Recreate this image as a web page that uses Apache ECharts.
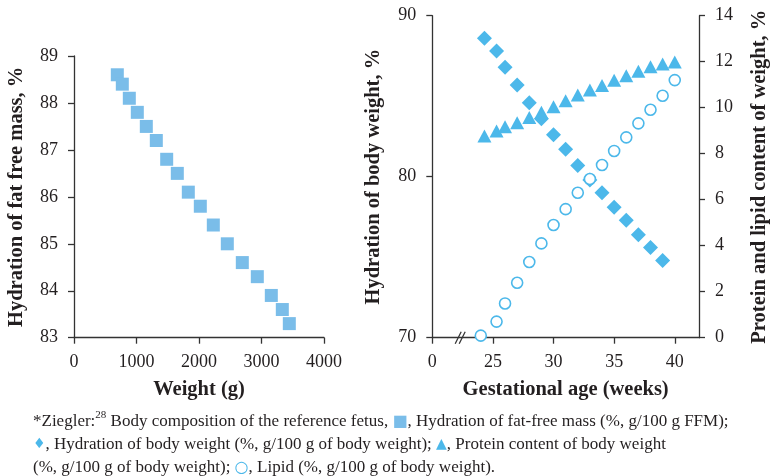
<!DOCTYPE html>
<html>
<head>
<meta charset="utf-8">
<script src="https://cdn.jsdelivr.net/npm/echarts@6/dist/echarts.min.js"></script>
<style>
  html, body { margin: 0; padding: 0; background: #fff; }
  #chart { width: 771px; height: 476px; }
</style>
</head>
<body>
<div id="chart"></div>
<script>
// left panel: hydration of fat free mass vs weight
const weightG = [693, 773, 885, 1013, 1157, 1317, 1483, 1653, 1829, 2021, 2229, 2453, 2693, 2933, 3157, 3333, 3445]
const hydrationFFM = [88.6, 88.4, 88.1, 87.8, 87.5, 87.2, 86.8, 86.5, 86.1, 85.8, 85.4, 85.0, 84.6, 84.3, 83.9, 83.6, 83.3]

// right panel: gestational age (weeks)
const bodyWeeks = [24.3, 25.3, 26, 27, 28, 29, 30, 31, 32, 33, 34, 35, 36, 37, 38, 39]
const hydrationBody = [88.6, 87.8, 86.8, 85.7, 84.6, 83.6, 82.6, 81.7, 80.7, 79.8, 79.0, 78.1, 77.3, 76.4, 75.6, 74.8]

const proteinWeeks = [24.3, 25.3, 26, 27, 28, 29, 30, 31, 32, 33, 34, 35, 36, 37, 38, 39, 40]
const protein = [8.77, 8.99, 9.17, 9.35, 9.57, 9.8, 10.04, 10.3, 10.55, 10.77, 10.97, 11.19, 11.39, 11.58, 11.78, 11.9, 11.99]

const lipidWeeks = [24, 25.3, 26, 27, 28, 29, 30, 31, 32, 33, 34, 35, 36, 37, 38, 39, 40]
const lipid = [0.09, 0.7, 1.49, 2.39, 3.29, 4.1, 4.9, 5.59, 6.3, 6.9, 7.51, 8.12, 8.71, 9.32, 9.91, 10.52, 11.2]

const leftTicksX = [0, 1000, 2000, 3000, 4000]
const rightTicksX = [20, 25, 30, 35, 40]   // 20 is drawn as "0" (broken axis)
const axisBreakAt = 22.3

const sqColor = '#7abde9'
const blue = '#4cb8ea'
const ink = '#231f20'
const axisColor = '#333'

const serif = 'Liberation Serif'

const pair = (xs, ys) => xs.map((x, i) => [x, ys[i]])

const chart = echarts.init(document.getElementById('chart'), null, { renderer: 'canvas' })

const axisBase = {
  axisLine: { show: true, lineStyle: { color: axisColor, width: 1.3 } },
  axisTick: { show: true, length: 6, lineStyle: { color: axisColor, width: 1.3 } },
  axisLabel: { color: ink, fontFamily: serif, fontSize: 18, margin: 16, formatter: v => String(v) },
  splitLine: { show: false },
  nameLocation: 'middle',
  nameTextStyle: { color: ink, fontFamily: serif, fontSize: 20.5, fontWeight: 'bold' }
}

const option = {
  animation: false,
  backgroundColor: '#fff',
  title: {
    left: 28,
    top: 405,
    text: '*Ziegler:{sup|28} Body composition of the reference fetus, {sq|■}, Hydration of fat-free mass (%, g/100 g FFM);\n' +
      '{di|♦}, Hydration of body weight (%, g/100 g of body weight); {tri|▲}, Protein content of body weight\n' +
      '(%, g/100 g of body weight); {ci|○}, Lipid (%, g/100 g of body weight).',
    textStyle: {
      color: ink,
      fontFamily: serif,
      fontSize: 17,
      fontWeight: 'normal',
      lineHeight: 23,
      rich: {
        sup: { fontSize: 11, fontFamily: serif, color: ink, verticalAlign: 'top', lineHeight: 14 },
        sq: { color: sqColor, fontSize: 16, fontFamily: 'DejaVu Sans', lineHeight: 23 },
        di: { color: blue, fontSize: 14, fontFamily: 'DejaVu Sans', lineHeight: 23 },
        tri: { color: blue, fontSize: 14, fontFamily: 'DejaVu Sans', lineHeight: 23 },
        ci: { color: blue, fontSize: 16, fontFamily: 'DejaVu Sans', lineHeight: 23 }
      }
    }
  },
  grid: [
    { left: 74, top: 56, width: 250, height: 281.7 },
    { left: 432.3, top: 15.7, width: 268.7, height: 322 }
  ],
  xAxis: [
    {
      ...axisBase,
      gridIndex: 0,
      type: 'value',
      min: 0,
      max: 4000,
      interval: 1000,
      name: 'Weight (g)',
      nameGap: 42,
      axisLabel: { ...axisBase.axisLabel, customValues: leftTicksX },
      axisTick: { ...axisBase.axisTick, customValues: leftTicksX }
    },
    {
      ...axisBase,
      gridIndex: 1,
      type: 'value',
      min: 20,
      max: 42,
      interval: 5,
      name: 'Gestational age (weeks)',
      nameGap: 42,
      axisLabel: {
        ...axisBase.axisLabel,
        customValues: rightTicksX,
        formatter: v => (v === 20 ? '0' : String(v))
      },
      axisTick: { ...axisBase.axisTick, customValues: rightTicksX }
    }
  ],
  yAxis: [
    {
      ...axisBase,
      gridIndex: 0,
      type: 'value',
      min: 83,
      max: 89,
      interval: 1,
      name: 'Hydration of fat free mass, %',
      nameGap: 47
    },
    {
      ...axisBase,
      gridIndex: 1,
      type: 'value',
      min: 70,
      max: 90,
      interval: 10,
      name: 'Hydration of body weight, %',
      nameGap: 48
    },
    {
      ...axisBase,
      gridIndex: 1,
      type: 'value',
      position: 'right',
      min: 0,
      max: 14,
      interval: 2,
      name: 'Protein and lipid content of weight, %',
      nameRotate: 90,
      nameGap: 50
    }
  ],
  series: [
    {
      name: 'Hydration of fat-free mass',
      type: 'scatter',
      xAxisIndex: 0,
      yAxisIndex: 0,
      symbol: 'rect',
      symbolSize: 13,
      itemStyle: { color: sqColor, opacity: 1 },
      data: pair(weightG, hydrationFFM)
    },
    {
      name: 'Hydration of body weight',
      type: 'scatter',
      xAxisIndex: 1,
      yAxisIndex: 1,
      symbol: 'diamond',
      symbolSize: [15, 15],
      itemStyle: { color: blue, opacity: 1 },
      data: pair(bodyWeeks, hydrationBody)
    },
    {
      name: 'Protein content',
      type: 'scatter',
      xAxisIndex: 1,
      yAxisIndex: 2,
      symbol: 'triangle',
      symbolSize: [14, 13],
      itemStyle: { color: blue, opacity: 1 },
      data: pair(proteinWeeks, protein)
    },
    {
      name: 'Lipid',
      type: 'scatter',
      xAxisIndex: 1,
      yAxisIndex: 2,
      symbol: 'circle',
      symbolSize: 11,
      itemStyle: { color: '#fff', borderColor: blue, borderWidth: 1.6, opacity: 1 },
      data: pair(lipidWeeks, lipid)
    },
    {
      // "//" break marks on the gestational age axis
      type: 'custom',
      xAxisIndex: 1,
      yAxisIndex: 1,
      silent: true,
      z: 10,
      data: [[axisBreakAt, 70]],
      renderItem: (params, api) => {
        const p = api.coord([api.value(0), api.value(1)])
        const mk = dx => ({
          type: 'line',
          shape: { x1: p[0] + dx - 3, y1: p[1] + 6, x2: p[0] + dx + 3, y2: p[1] - 6 },
          style: { stroke: axisColor, lineWidth: 1.3 }
        })
        return { type: 'group', children: [mk(-2), mk(2)] }
      }
    }
  ]
}

chart.setOption(option)
</script>
</body>
</html>
